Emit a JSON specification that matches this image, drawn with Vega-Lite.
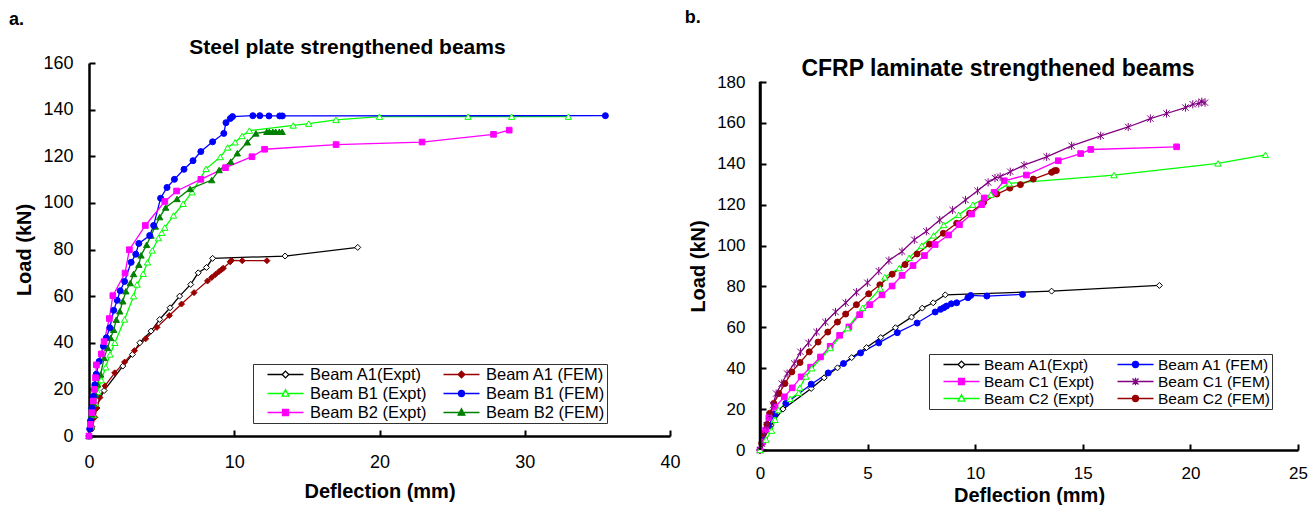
{
"$schema": "https://vega.github.io/schema/vega-lite/v6.json",
"background": "white",
"padding": {"left": 8, "top": 9, "right": 0, "bottom": 0},
"config": {
  "view": {"stroke": null},
  "font": "Liberation Sans",
  "axis": {"grid": false, "domainColor": "#000", "domainWidth": 2.5, "tickColor": "#000", "tickWidth": 2, "tickSize": -6, "labelFont": "Liberation Sans", "labelFontSize": 18, "labelColor": "#000", "labelFlush": false, "labelOverlap": false, "titleFont": "Liberation Sans", "titleFontSize": 20, "titleFontWeight": "bold", "titleColor": "#000"},
  "axisX": {"labelPadding": 23, "titlePadding": 10},
  "axisY": {"labelPadding": 22, "titlePadding": 8},
  "legend": {"labelFont": "Liberation Sans", "labelColor": "#000", "orient": "none", "columns": 2, "direction": "horizontal", "symbolSize": 225, "symbolStrokeWidth": 1, "symbolOffset": 22, "symbolOpacity": 1, "padding": 2, "strokeColor": "#333", "fillColor": "#fff", "labelLimit": 300, "columnPadding": 10},
  "point": {"size": 36, "strokeWidth": 1, "opacity": 1},
  "line": {"strokeWidth": 1.3},
  "title": {"font": "Liberation Sans", "fontWeight": "bold", "color": "#000"}
},
"spacing": 3,
"resolve": {"scale": {"x": "independent", "y": "independent", "stroke": "independent", "fill": "independent", "shape": "independent"}, "legend": {"stroke": "independent", "fill": "independent", "shape": "independent"}},
"hconcat": [
{
 "title": {"text": "a.", "anchor": "start", "fontSize": 18, "offset": 8, "dx": -6},
 "vconcat": [
 {
  "width": 581, "height": 373,
  "title": {"text": "Steel plate strengthened beams", "fontSize": 21, "offset": -4, "frame": "bounds"},
  "data": {"values": [
{"s":"Beam A1(Expt)","x":0,"y":0},{"s":"Beam A1(Expt)","x":0.2,"y":4},{"s":"Beam A1(Expt)","x":0.45,"y":12},{"s":"Beam A1(Expt)","x":1.04,"y":19.5},{"s":"Beam A1(Expt)","x":2.33,"y":30},{"s":"Beam A1(Expt)","x":2.99,"y":35},{"s":"Beam A1(Expt)","x":3.5,"y":40},{"s":"Beam A1(Expt)","x":4.27,"y":45},{"s":"Beam A1(Expt)","x":4.87,"y":50},{"s":"Beam A1(Expt)","x":5.58,"y":55},{"s":"Beam A1(Expt)","x":6.24,"y":60},{"s":"Beam A1(Expt)","x":7.0,"y":65},{"s":"Beam A1(Expt)","x":7.52,"y":70},{"s":"Beam A1(Expt)","x":8.09,"y":72.3},{"s":"Beam A1(Expt)","x":8.51,"y":76.2},{"s":"Beam A1(Expt)","x":13.5,"y":77.2},{"s":"Beam A1(Expt)","x":18.5,"y":80.9},
{"s":"Beam A1 (FEM)","x":0,"y":0},{"s":"Beam A1 (FEM)","x":0.2,"y":3},{"s":"Beam A1 (FEM)","x":0.4,"y":8},{"s":"Beam A1 (FEM)","x":0.55,"y":12},{"s":"Beam A1 (FEM)","x":0.75,"y":16.5},{"s":"Beam A1 (FEM)","x":1.1,"y":21.5},{"s":"Beam A1 (FEM)","x":1.77,"y":27.1},{"s":"Beam A1 (FEM)","x":2.45,"y":31.7},{"s":"Beam A1 (FEM)","x":3.13,"y":36.6},{"s":"Beam A1 (FEM)","x":3.9,"y":41.7},{"s":"Beam A1 (FEM)","x":4.68,"y":46.6},{"s":"Beam A1 (FEM)","x":5.53,"y":51.7},{"s":"Beam A1 (FEM)","x":6.37,"y":56.6},{"s":"Beam A1 (FEM)","x":7.23,"y":61.5},{"s":"Beam A1 (FEM)","x":8.16,"y":66.5},{"s":"Beam A1 (FEM)","x":8.45,"y":68},{"s":"Beam A1 (FEM)","x":8.7,"y":69.3},{"s":"Beam A1 (FEM)","x":8.94,"y":70.5},{"s":"Beam A1 (FEM)","x":9.13,"y":71.4},{"s":"Beam A1 (FEM)","x":9.25,"y":72},{"s":"Beam A1 (FEM)","x":9.72,"y":74.7},{"s":"Beam A1 (FEM)","x":9.8,"y":75.3},{"s":"Beam A1 (FEM)","x":10.55,"y":75.2},{"s":"Beam A1 (FEM)","x":12.25,"y":75.2},
{"s":"Beam B1 (Expt)","x":0,"y":0},{"s":"Beam B1 (Expt)","x":0.15,"y":4},{"s":"Beam B1 (Expt)","x":0.3,"y":9},{"s":"Beam B1 (Expt)","x":0.45,"y":14},{"s":"Beam B1 (Expt)","x":0.6,"y":19},{"s":"Beam B1 (Expt)","x":0.85,"y":24},{"s":"Beam B1 (Expt)","x":1.15,"y":29.5},{"s":"Beam B1 (Expt)","x":1.45,"y":35},{"s":"Beam B1 (Expt)","x":1.78,"y":40},{"s":"Beam B1 (Expt)","x":2.45,"y":50},{"s":"Beam B1 (Expt)","x":3.07,"y":60},{"s":"Beam B1 (Expt)","x":3.31,"y":65},{"s":"Beam B1 (Expt)","x":3.73,"y":69.6},{"s":"Beam B1 (Expt)","x":4.03,"y":74.5},{"s":"Beam B1 (Expt)","x":4.36,"y":79.6},{"s":"Beam B1 (Expt)","x":4.78,"y":84.9},{"s":"Beam B1 (Expt)","x":5.01,"y":87.2},{"s":"Beam B1 (Expt)","x":5.22,"y":89.4},{"s":"Beam B1 (Expt)","x":5.82,"y":94.6},{"s":"Beam B1 (Expt)","x":6.48,"y":99.6},{"s":"Beam B1 (Expt)","x":7.1,"y":104.6},{"s":"Beam B1 (Expt)","x":8.06,"y":114.6},{"s":"Beam B1 (Expt)","x":9.04,"y":119.7},{"s":"Beam B1 (Expt)","x":9.55,"y":123.8},{"s":"Beam B1 (Expt)","x":10.06,"y":126},{"s":"Beam B1 (Expt)","x":10.54,"y":128.7},{"s":"Beam B1 (Expt)","x":11.04,"y":131},{"s":"Beam B1 (Expt)","x":14.06,"y":133.2},{"s":"Beam B1 (Expt)","x":15.13,"y":134},{"s":"Beam B1 (Expt)","x":17.0,"y":135.6},{"s":"Beam B1 (Expt)","x":20.0,"y":137},{"s":"Beam B1 (Expt)","x":26.1,"y":137},{"s":"Beam B1 (Expt)","x":29.1,"y":137},{"s":"Beam B1 (Expt)","x":33.0,"y":137},
{"s":"Beam B1 (FEM)","x":0,"y":0},{"s":"Beam B1 (FEM)","x":0.05,"y":3},{"s":"Beam B1 (FEM)","x":0.1,"y":6.5},{"s":"Beam B1 (FEM)","x":0.2,"y":12},{"s":"Beam B1 (FEM)","x":0.3,"y":17},{"s":"Beam B1 (FEM)","x":0.4,"y":22},{"s":"Beam B1 (FEM)","x":0.5,"y":26.5},{"s":"Beam B1 (FEM)","x":0.7,"y":32},{"s":"Beam B1 (FEM)","x":0.99,"y":38.5},{"s":"Beam B1 (FEM)","x":1.19,"y":42.1},{"s":"Beam B1 (FEM)","x":1.43,"y":46.4},{"s":"Beam B1 (FEM)","x":1.7,"y":53.9},{"s":"Beam B1 (FEM)","x":1.94,"y":58.2},{"s":"Beam B1 (FEM)","x":2.15,"y":62.3},{"s":"Beam B1 (FEM)","x":2.45,"y":66.3},{"s":"Beam B1 (FEM)","x":2.9,"y":74.5},{"s":"Beam B1 (FEM)","x":3.22,"y":78},{"s":"Beam B1 (FEM)","x":3.43,"y":82.6},{"s":"Beam B1 (FEM)","x":4.18,"y":86},{"s":"Beam B1 (FEM)","x":4.45,"y":90.3},{"s":"Beam B1 (FEM)","x":4.93,"y":102},{"s":"Beam B1 (FEM)","x":5.37,"y":106.6},{"s":"Beam B1 (FEM)","x":5.88,"y":110.1},{"s":"Beam B1 (FEM)","x":6.54,"y":114.4},{"s":"Beam B1 (FEM)","x":7.16,"y":118.1},{"s":"Beam B1 (FEM)","x":7.7,"y":122},{"s":"Beam B1 (FEM)","x":8.51,"y":126.2},{"s":"Beam B1 (FEM)","x":9.28,"y":129.8},{"s":"Beam B1 (FEM)","x":9.43,"y":134.4},{"s":"Beam B1 (FEM)","x":9.73,"y":136.2},{"s":"Beam B1 (FEM)","x":9.88,"y":137},{"s":"Beam B1 (FEM)","x":11.28,"y":137.4},{"s":"Beam B1 (FEM)","x":11.76,"y":137.4},{"s":"Beam B1 (FEM)","x":12.39,"y":137.3},{"s":"Beam B1 (FEM)","x":13.13,"y":137.3},{"s":"Beam B1 (FEM)","x":13.31,"y":137.3},{"s":"Beam B1 (FEM)","x":35.55,"y":137.4},
{"s":"Beam B2 (Expt)","x":0,"y":0},{"s":"Beam B2 (Expt)","x":0.1,"y":5},{"s":"Beam B2 (Expt)","x":0.2,"y":10},{"s":"Beam B2 (Expt)","x":0.3,"y":15},{"s":"Beam B2 (Expt)","x":0.38,"y":20},{"s":"Beam B2 (Expt)","x":0.45,"y":25},{"s":"Beam B2 (Expt)","x":0.51,"y":30.5},{"s":"Beam B2 (Expt)","x":0.85,"y":35.2},{"s":"Beam B2 (Expt)","x":1.04,"y":40.5},{"s":"Beam B2 (Expt)","x":1.4,"y":50.4},{"s":"Beam B2 (Expt)","x":1.64,"y":60.2},{"s":"Beam B2 (Expt)","x":2.48,"y":69.9},{"s":"Beam B2 (Expt)","x":2.78,"y":79.9},{"s":"Beam B2 (Expt)","x":3.88,"y":90.3},{"s":"Beam B2 (Expt)","x":5.22,"y":100.6},{"s":"Beam B2 (Expt)","x":6.03,"y":105.1},{"s":"Beam B2 (Expt)","x":7.7,"y":110.1},{"s":"Beam B2 (Expt)","x":9.4,"y":115.1},{"s":"Beam B2 (Expt)","x":11.22,"y":119.8},{"s":"Beam B2 (Expt)","x":12.09,"y":123},{"s":"Beam B2 (Expt)","x":17.01,"y":125},{"s":"Beam B2 (Expt)","x":22.93,"y":126.1},{"s":"Beam B2 (Expt)","x":27.85,"y":129.4},{"s":"Beam B2 (Expt)","x":28.93,"y":131.2},
{"s":"Beam B2 (FEM)","x":0,"y":0},{"s":"Beam B2 (FEM)","x":0.08,"y":4},{"s":"Beam B2 (FEM)","x":0.2,"y":9.3},{"s":"Beam B2 (FEM)","x":0.32,"y":14},{"s":"Beam B2 (FEM)","x":0.45,"y":17.8},{"s":"Beam B2 (FEM)","x":0.6,"y":22.1},{"s":"Beam B2 (FEM)","x":0.8,"y":26.4},{"s":"Beam B2 (FEM)","x":1.04,"y":33.5},{"s":"Beam B2 (FEM)","x":1.28,"y":37.8},{"s":"Beam B2 (FEM)","x":1.49,"y":42.1},{"s":"Beam B2 (FEM)","x":1.7,"y":45.6},{"s":"Beam B2 (FEM)","x":1.88,"y":49.9},{"s":"Beam B2 (FEM)","x":2.12,"y":53.5},{"s":"Beam B2 (FEM)","x":2.33,"y":57.8},{"s":"Beam B2 (FEM)","x":2.54,"y":62.1},{"s":"Beam B2 (FEM)","x":2.84,"y":65.6},{"s":"Beam B2 (FEM)","x":3.07,"y":69.5},{"s":"Beam B2 (FEM)","x":3.43,"y":73.5},{"s":"Beam B2 (FEM)","x":3.58,"y":77.5},{"s":"Beam B2 (FEM)","x":3.97,"y":82},{"s":"Beam B2 (FEM)","x":4.27,"y":86},{"s":"Beam B2 (FEM)","x":4.57,"y":89.9},{"s":"Beam B2 (FEM)","x":4.87,"y":93.9},{"s":"Beam B2 (FEM)","x":5.28,"y":98},{"s":"Beam B2 (FEM)","x":6.06,"y":101.7},{"s":"Beam B2 (FEM)","x":6.96,"y":106},{"s":"Beam B2 (FEM)","x":8.45,"y":109.8},{"s":"Beam B2 (FEM)","x":8.96,"y":114.1},{"s":"Beam B2 (FEM)","x":9.76,"y":117.7},{"s":"Beam B2 (FEM)","x":10.21,"y":121.3},{"s":"Beam B2 (FEM)","x":10.9,"y":126},{"s":"Beam B2 (FEM)","x":11.49,"y":129.8},{"s":"Beam B2 (FEM)","x":12.24,"y":130.5},{"s":"Beam B2 (FEM)","x":12.42,"y":130.5},{"s":"Beam B2 (FEM)","x":12.65,"y":130.5},{"s":"Beam B2 (FEM)","x":12.85,"y":130.5},{"s":"Beam B2 (FEM)","x":13.1,"y":130.5},{"s":"Beam B2 (FEM)","x":13.3,"y":130.5}
  ]},
  "encoding": {
   "x": {"field": "x", "type": "quantitative", "title": "Deflection (mm)", "scale": {"domain": [0, 40], "nice": false}, "axis": {"values": [0, 10, 20, 30, 40]}},
   "y": {"field": "y", "type": "quantitative", "title": "Load (kN)", "scale": {"domain": [0, 160], "nice": false}, "axis": {"values": [0, 20, 40, 60, 80, 100, 120, 140, 160]}}
  },
  "layer": [
   {"mark": "line",
    "encoding": {"stroke": {"field": "s", "type": "nominal",
      "scale": {"domain": ["Beam A1(Expt)", "Beam A1 (FEM)", "Beam B1 (Expt)", "Beam B1 (FEM)", "Beam B2 (Expt)", "Beam B2 (FEM)"], "range": ["#000000", "#990000", "#00ff00", "#0000ff", "#ff00ff", "#008000"]},
      "legend": {"title": null, "legendX": 164, "legendY": 301, "labelFontSize": 16.5, "labelOffset": 16, "rowPadding": 2, "columnPadding": 4}}}},
   {"transform": [{"filter": {"field": "s", "oneOf": ["Beam A1(Expt)", "Beam A1 (FEM)"]}}],
    "mark": {"type": "point", "shape": "diamond"},
    "encoding": {
     "stroke": {"field": "s", "type": "nominal", "legend": {"title": null, "legendX": 164, "legendY": 301, "labelFontSize": 16.5, "labelOffset": 16, "rowPadding": 2, "columnPadding": 4}},
     "fill": {"field": "s", "type": "nominal", "legend": {"title": null, "legendX": 164, "legendY": 301, "labelFontSize": 16.5, "labelOffset": 16, "rowPadding": 2, "columnPadding": 4}, "scale": {"domain": ["Beam A1(Expt)", "Beam A1 (FEM)", "Beam B1 (Expt)", "Beam B1 (FEM)", "Beam B2 (Expt)", "Beam B2 (FEM)"], "range": ["#ffffff", "#990000", "#ffffff", "#0000ff", "#ff00ff", "#008000"]}}
    }},
   {"transform": [{"filter": {"field": "s", "oneOf": ["Beam B1 (Expt)", "Beam B2 (FEM)"]}}],
    "mark": {"type": "point", "shape": "triangle-up", "size": 40},
    "encoding": {
     "stroke": {"field": "s", "type": "nominal", "legend": {"title": null, "legendX": 164, "legendY": 301, "labelFontSize": 16.5, "labelOffset": 16, "rowPadding": 2, "columnPadding": 4}},
     "fill": {"field": "s", "type": "nominal", "legend": {"title": null, "legendX": 164, "legendY": 301, "labelFontSize": 16.5, "labelOffset": 16, "rowPadding": 2, "columnPadding": 4}}
    }},
   {"transform": [{"filter": {"field": "s", "oneOf": ["Beam B1 (FEM)"]}}],
    "mark": {"type": "point", "shape": "circle"},
    "encoding": {
     "stroke": {"field": "s", "type": "nominal", "legend": {"title": null, "legendX": 164, "legendY": 301, "labelFontSize": 16.5, "labelOffset": 16, "rowPadding": 2, "columnPadding": 4}},
     "fill": {"field": "s", "type": "nominal", "legend": {"title": null, "legendX": 164, "legendY": 301, "labelFontSize": 16.5, "labelOffset": 16, "rowPadding": 2, "columnPadding": 4}}
    }},
   {"transform": [{"filter": {"field": "s", "oneOf": ["Beam B2 (Expt)"]}}],
    "mark": {"type": "point", "shape": "square", "size": 32},
    "encoding": {
     "stroke": {"field": "s", "type": "nominal", "legend": {"title": null, "legendX": 164, "legendY": 301, "labelFontSize": 16.5, "labelOffset": 16, "rowPadding": 2, "columnPadding": 4}},
     "fill": {"field": "s", "type": "nominal", "legend": {"title": null, "legendX": 164, "legendY": 301, "labelFontSize": 16.5, "labelOffset": 16, "rowPadding": 2, "columnPadding": 4}}
    }},
   {"transform": [{"filter": "datum.x < 0"}],
    "mark": {"type": "point"},
    "encoding": {
     "stroke": {"field": "s", "type": "nominal", "legend": {"title": null, "legendX": 164, "legendY": 301, "labelFontSize": 16.5, "labelOffset": 16, "rowPadding": 2, "columnPadding": 4}},
     "fill": {"field": "s", "type": "nominal", "legend": {"title": null, "legendX": 164, "legendY": 301, "labelFontSize": 16.5, "labelOffset": 16, "rowPadding": 2, "columnPadding": 4}},
     "shape": {"field": "s", "type": "nominal", "legend": {"title": null, "legendX": 164, "legendY": 301, "labelFontSize": 16.5, "labelOffset": 16, "rowPadding": 2, "columnPadding": 4},
      "scale": {"domain": ["Beam A1(Expt)", "Beam A1 (FEM)", "Beam B1 (Expt)", "Beam B1 (FEM)", "Beam B2 (Expt)", "Beam B2 (FEM)"], "range": ["M-2.4,0H-0.45M0.45,0H2.4M0,-0.45L0.45,0L0,0.45L-0.45,0Z", "M-2.4,0H-0.45M0.45,0H2.4M0,-0.45L0.45,0L0,0.45L-0.45,0Z", "M-2.4,0H-0.26M0.26,0H2.4M0,-0.5L0.45,0.35L-0.45,0.35Z", "M-2.4,0H-0.4M0.4,0H2.4M-0.4,0A0.4,0.4,0,1,1,0.4,0A0.4,0.4,0,1,1,-0.4,0Z", "M-2.4,0H-0.4M0.4,0H2.4M-0.4,-0.4H0.4V0.4H-0.4Z", "M-2.4,0H-0.26M0.26,0H2.4M0,-0.5L0.45,0.35L-0.45,0.35Z"]}}
    }}
  ]
 }]
},
{
 "title": {"text": "b.", "anchor": "start", "fontSize": 18, "offset": 31, "dx": -4},
 "vconcat": [
 {
  "width": 538, "height": 387,
  "title": {"text": "CFRP laminate strengthened beams", "fontSize": 23, "offset": -18, "frame": "bounds"},
  "data": {"values": [
{"s":"Beam A1(Expt)","x":0,"y":0},{"s":"Beam A1(Expt)","x":0.15,"y":5},{"s":"Beam A1(Expt)","x":0.5,"y":12},{"s":"Beam A1(Expt)","x":1.07,"y":20},{"s":"Beam A1(Expt)","x":2.38,"y":30.1},{"s":"Beam A1(Expt)","x":2.98,"y":35.3},{"s":"Beam A1(Expt)","x":3.6,"y":40.2},{"s":"Beam A1(Expt)","x":4.26,"y":45.2},{"s":"Beam A1(Expt)","x":4.95,"y":50.1},{"s":"Beam A1(Expt)","x":5.61,"y":55},{"s":"Beam A1(Expt)","x":6.29,"y":59.8},{"s":"Beam A1(Expt)","x":7.04,"y":65},{"s":"Beam A1(Expt)","x":7.54,"y":69.4},{"s":"Beam A1(Expt)","x":8.05,"y":72},{"s":"Beam A1(Expt)","x":8.61,"y":75.9},{"s":"Beam A1(Expt)","x":13.55,"y":77.7},{"s":"Beam A1(Expt)","x":18.56,"y":80.5},
{"s":"Beam A1 (FEM)","x":0,"y":0},{"s":"Beam A1 (FEM)","x":0.15,"y":5},{"s":"Beam A1 (FEM)","x":0.4,"y":12},{"s":"Beam A1 (FEM)","x":0.69,"y":17.6},{"s":"Beam A1 (FEM)","x":1.2,"y":22.8},{"s":"Beam A1 (FEM)","x":2.38,"y":32.2},{"s":"Beam A1 (FEM)","x":3.17,"y":37.7},{"s":"Beam A1 (FEM)","x":3.88,"y":42.3},{"s":"Beam A1 (FEM)","x":4.67,"y":47.5},{"s":"Beam A1 (FEM)","x":5.52,"y":52.4},{"s":"Beam A1 (FEM)","x":6.38,"y":57.4},{"s":"Beam A1 (FEM)","x":7.3,"y":62.1},{"s":"Beam A1 (FEM)","x":8.14,"y":67.5},{"s":"Beam A1 (FEM)","x":8.39,"y":68.8},{"s":"Beam A1 (FEM)","x":8.54,"y":69.6},{"s":"Beam A1 (FEM)","x":8.67,"y":70.4},{"s":"Beam A1 (FEM)","x":8.89,"y":71.5},{"s":"Beam A1 (FEM)","x":9.14,"y":72},{"s":"Beam A1 (FEM)","x":9.66,"y":74.5},{"s":"Beam A1 (FEM)","x":9.79,"y":75.6},{"s":"Beam A1 (FEM)","x":10.54,"y":75.3},{"s":"Beam A1 (FEM)","x":12.2,"y":76.1},
{"s":"Beam C1 (Expt)","x":0,"y":0},{"s":"Beam C1 (Expt)","x":0.13,"y":4},{"s":"Beam C1 (Expt)","x":0.26,"y":9.8},{"s":"Beam C1 (Expt)","x":0.41,"y":15.8},{"s":"Beam C1 (Expt)","x":0.7,"y":21},{"s":"Beam C1 (Expt)","x":1.13,"y":26},{"s":"Beam C1 (Expt)","x":1.5,"y":30.4},{"s":"Beam C1 (Expt)","x":1.91,"y":35.8},{"s":"Beam C1 (Expt)","x":2.35,"y":40.5},{"s":"Beam C1 (Expt)","x":2.81,"y":45.5},{"s":"Beam C1 (Expt)","x":3.26,"y":50.7},{"s":"Beam C1 (Expt)","x":3.7,"y":56.1},{"s":"Beam C1 (Expt)","x":4.13,"y":60.2},{"s":"Beam C1 (Expt)","x":4.63,"y":66.2},{"s":"Beam C1 (Expt)","x":5.1,"y":71.1},{"s":"Beam C1 (Expt)","x":5.67,"y":75.9},{"s":"Beam C1 (Expt)","x":6.14,"y":80.2},{"s":"Beam C1 (Expt)","x":6.6,"y":85.4},{"s":"Beam C1 (Expt)","x":7.11,"y":90.2},{"s":"Beam C1 (Expt)","x":7.64,"y":95.1},{"s":"Beam C1 (Expt)","x":8.14,"y":100.5},{"s":"Beam C1 (Expt)","x":8.76,"y":105.2},{"s":"Beam C1 (Expt)","x":9.27,"y":110.2},{"s":"Beam C1 (Expt)","x":9.83,"y":115.4},{"s":"Beam C1 (Expt)","x":10.3,"y":120},{"s":"Beam C1 (Expt)","x":10.42,"y":123.3},{"s":"Beam C1 (Expt)","x":10.88,"y":126},{"s":"Beam C1 (Expt)","x":11.35,"y":131.7},{"s":"Beam C1 (Expt)","x":12.38,"y":134.5},{"s":"Beam C1 (Expt)","x":13.86,"y":141.5},{"s":"Beam C1 (Expt)","x":14.9,"y":145},{"s":"Beam C1 (Expt)","x":15.37,"y":147},{"s":"Beam C1 (Expt)","x":19.36,"y":148.3},
{"s":"Beam C1 (FEM)","x":0,"y":0},{"s":"Beam C1 (FEM)","x":0.1,"y":3},{"s":"Beam C1 (FEM)","x":0.2,"y":7},{"s":"Beam C1 (FEM)","x":0.32,"y":12},{"s":"Beam C1 (FEM)","x":0.45,"y":17},{"s":"Beam C1 (FEM)","x":0.6,"y":22},{"s":"Beam C1 (FEM)","x":0.75,"y":27.6},{"s":"Beam C1 (FEM)","x":1.01,"y":32.5},{"s":"Beam C1 (FEM)","x":1.26,"y":37.4},{"s":"Beam C1 (FEM)","x":1.59,"y":42.3},{"s":"Beam C1 (FEM)","x":1.88,"y":48},{"s":"Beam C1 (FEM)","x":2.25,"y":52.4},{"s":"Beam C1 (FEM)","x":2.63,"y":57.7},{"s":"Beam C1 (FEM)","x":3.04,"y":62.6},{"s":"Beam C1 (FEM)","x":3.51,"y":67.5},{"s":"Beam C1 (FEM)","x":3.98,"y":72},{"s":"Beam C1 (FEM)","x":4.48,"y":77.2},{"s":"Beam C1 (FEM)","x":4.99,"y":81.8},{"s":"Beam C1 (FEM)","x":5.52,"y":87.5},{"s":"Beam C1 (FEM)","x":5.99,"y":92.7},{"s":"Beam C1 (FEM)","x":6.6,"y":97.1},{"s":"Beam C1 (FEM)","x":7.17,"y":102.8},{"s":"Beam C1 (FEM)","x":7.73,"y":107},{"s":"Beam C1 (FEM)","x":8.35,"y":112.5},{"s":"Beam C1 (FEM)","x":8.95,"y":117.4},{"s":"Beam C1 (FEM)","x":9.55,"y":122.3},{"s":"Beam C1 (FEM)","x":10.11,"y":126.8},{"s":"Beam C1 (FEM)","x":10.6,"y":130.9},{"s":"Beam C1 (FEM)","x":10.92,"y":133},{"s":"Beam C1 (FEM)","x":11.16,"y":133.7},{"s":"Beam C1 (FEM)","x":11.63,"y":136.1},{"s":"Beam C1 (FEM)","x":12.27,"y":139.3},{"s":"Beam C1 (FEM)","x":13.32,"y":143.4},{"s":"Beam C1 (FEM)","x":14.48,"y":148.8},{"s":"Beam C1 (FEM)","x":15.83,"y":153.7},{"s":"Beam C1 (FEM)","x":17.11,"y":158},{"s":"Beam C1 (FEM)","x":18.14,"y":162.1},{"s":"Beam C1 (FEM)","x":18.89,"y":164.6},{"s":"Beam C1 (FEM)","x":19.77,"y":167.5},{"s":"Beam C1 (FEM)","x":20.11,"y":169.1},{"s":"Beam C1 (FEM)","x":20.39,"y":169.6},{"s":"Beam C1 (FEM)","x":20.53,"y":170.4},{"s":"Beam C1 (FEM)","x":20.68,"y":169.9},
{"s":"Beam C2 (Expt)","x":0,"y":0},{"s":"Beam C2 (Expt)","x":0.28,"y":5.1},{"s":"Beam C2 (Expt)","x":0.54,"y":9.5},{"s":"Beam C2 (Expt)","x":0.7,"y":14.8},{"s":"Beam C2 (Expt)","x":0.85,"y":19.5},{"s":"Beam C2 (Expt)","x":1.4,"y":25},{"s":"Beam C2 (Expt)","x":1.8,"y":28},{"s":"Beam C2 (Expt)","x":1.85,"y":30.5},{"s":"Beam C2 (Expt)","x":2.14,"y":36},{"s":"Beam C2 (Expt)","x":2.41,"y":40},{"s":"Beam C2 (Expt)","x":3.27,"y":49.9},{"s":"Beam C2 (Expt)","x":4.07,"y":59.6},{"s":"Beam C2 (Expt)","x":4.77,"y":69.5},{"s":"Beam C2 (Expt)","x":5.59,"y":79},{"s":"Beam C2 (Expt)","x":5.8,"y":84.5},{"s":"Beam C2 (Expt)","x":6.47,"y":89},{"s":"Beam C2 (Expt)","x":6.93,"y":94},{"s":"Beam C2 (Expt)","x":7.52,"y":100},{"s":"Beam C2 (Expt)","x":8.07,"y":105},{"s":"Beam C2 (Expt)","x":8.54,"y":110.1},{"s":"Beam C2 (Expt)","x":9.23,"y":115},{"s":"Beam C2 (Expt)","x":9.89,"y":120},{"s":"Beam C2 (Expt)","x":10.73,"y":124.9},{"s":"Beam C2 (Expt)","x":11.58,"y":130.4},{"s":"Beam C2 (Expt)","x":16.45,"y":134.5},{"s":"Beam C2 (Expt)","x":21.28,"y":140.2},{"s":"Beam C2 (Expt)","x":23.49,"y":144.4},
{"s":"Beam C2 (FEM)","x":0,"y":0},{"s":"Beam C2 (FEM)","x":0.08,"y":3.3},{"s":"Beam C2 (FEM)","x":0.17,"y":8.1},{"s":"Beam C2 (FEM)","x":0.32,"y":12.5},{"s":"Beam C2 (FEM)","x":0.45,"y":17.9},{"s":"Beam C2 (FEM)","x":0.64,"y":22.8},{"s":"Beam C2 (FEM)","x":0.88,"y":27.6},{"s":"Beam C2 (FEM)","x":1.16,"y":32.5},{"s":"Beam C2 (FEM)","x":1.48,"y":38.2},{"s":"Beam C2 (FEM)","x":1.86,"y":42.8},{"s":"Beam C2 (FEM)","x":2.29,"y":48},{"s":"Beam C2 (FEM)","x":2.7,"y":52.8},{"s":"Beam C2 (FEM)","x":3.15,"y":57.7},{"s":"Beam C2 (FEM)","x":3.6,"y":62.6},{"s":"Beam C2 (FEM)","x":3.98,"y":66.5},{"s":"Beam C2 (FEM)","x":4.48,"y":71.1},{"s":"Beam C2 (FEM)","x":5.05,"y":76.4},{"s":"Beam C2 (FEM)","x":5.57,"y":80.8},{"s":"Beam C2 (FEM)","x":6.14,"y":86},{"s":"Beam C2 (FEM)","x":6.74,"y":90.7},{"s":"Beam C2 (FEM)","x":7.3,"y":95.9},{"s":"Beam C2 (FEM)","x":7.88,"y":100.7},{"s":"Beam C2 (FEM)","x":8.52,"y":106},{"s":"Beam C2 (FEM)","x":9.14,"y":110.9},{"s":"Beam C2 (FEM)","x":9.74,"y":115.8},{"s":"Beam C2 (FEM)","x":10.39,"y":121.1},{"s":"Beam C2 (FEM)","x":11.01,"y":125.2},{"s":"Beam C2 (FEM)","x":11.61,"y":128.1},{"s":"Beam C2 (FEM)","x":12.1,"y":129.8},{"s":"Beam C2 (FEM)","x":12.7,"y":132.5},{"s":"Beam C2 (FEM)","x":13.55,"y":135.8},{"s":"Beam C2 (FEM)","x":13.68,"y":136.6},{"s":"Beam C2 (FEM)","x":13.77,"y":136.7}
  ]},
  "encoding": {
   "x": {"field": "x", "type": "quantitative", "title": "Deflection (mm)", "scale": {"domain": [0, 25], "nice": false}, "axis": {"values": [0, 5, 10, 15, 20, 25], "labelFontSize": 17, "labelPadding": 21, "titlePadding": 4}},
   "y": {"field": "y", "type": "quantitative", "title": "Load (kN)", "scale": {"domain": [0, 189.3], "nice": false}, "axis": {"values": [0, 20, 40, 60, 80, 100, 120, 140, 160, 180], "labelFontSize": 17, "labelPadding": 21, "domainDash": [369, 60], "titleY": 203}}
  },
  "layer": [
   {"mark": "line",
    "encoding": {"stroke": {"field": "s", "type": "nominal",
      "scale": {"domain": ["Beam A1(Expt)", "Beam A1 (FEM)", "Beam C1 (Expt)", "Beam C1 (FEM)", "Beam C2 (Expt)", "Beam C2 (FEM)"], "range": ["#000000", "#0000ff", "#ff00ff", "#800080", "#00ff00", "#990000"]},
      "legend": {"title": null, "legendX": 169, "legendY": 291, "labelFontSize": 15.5, "labelOffset": 14, "rowPadding": -1.5}}}},
   {"transform": [{"filter": {"field": "s", "oneOf": ["Beam A1(Expt)"]}}],
    "mark": {"type": "point", "shape": "diamond"},
    "encoding": {
     "stroke": {"field": "s", "type": "nominal", "legend": {"title": null, "legendX": 169, "legendY": 291, "labelFontSize": 15.5, "labelOffset": 14, "rowPadding": -1.5}},
     "fill": {"field": "s", "type": "nominal", "legend": {"title": null, "legendX": 169, "legendY": 291, "labelFontSize": 15.5, "labelOffset": 14, "rowPadding": -1.5}, "scale": {"domain": ["Beam A1(Expt)", "Beam A1 (FEM)", "Beam C1 (Expt)", "Beam C1 (FEM)", "Beam C2 (Expt)", "Beam C2 (FEM)"], "range": ["#ffffff", "#0000ff", "#ff00ff", "#800080", "#ffffff", "#990000"]}}
    }},
   {"transform": [{"filter": {"field": "s", "oneOf": ["Beam A1 (FEM)", "Beam C2 (FEM)"]}}],
    "mark": {"type": "point", "shape": "circle"},
    "encoding": {
     "stroke": {"field": "s", "type": "nominal", "legend": {"title": null, "legendX": 169, "legendY": 291, "labelFontSize": 15.5, "labelOffset": 14, "rowPadding": -1.5}},
     "fill": {"field": "s", "type": "nominal", "legend": {"title": null, "legendX": 169, "legendY": 291, "labelFontSize": 15.5, "labelOffset": 14, "rowPadding": -1.5}}
    }},
   {"transform": [{"filter": {"field": "s", "oneOf": ["Beam C1 (Expt)"]}}],
    "mark": {"type": "point", "shape": "square", "size": 32},
    "encoding": {
     "stroke": {"field": "s", "type": "nominal", "legend": {"title": null, "legendX": 169, "legendY": 291, "labelFontSize": 15.5, "labelOffset": 14, "rowPadding": -1.5}},
     "fill": {"field": "s", "type": "nominal", "legend": {"title": null, "legendX": 169, "legendY": 291, "labelFontSize": 15.5, "labelOffset": 14, "rowPadding": -1.5}}
    }},
   {"transform": [{"filter": {"field": "s", "oneOf": ["Beam C1 (FEM)"]}}],
    "mark": {"type": "point", "shape": "M-1,-1L1,1M-1,1L1,-1M0,-1.3V1.3", "size": 40},
    "encoding": {
     "stroke": {"field": "s", "type": "nominal", "legend": {"title": null, "legendX": 169, "legendY": 291, "labelFontSize": 15.5, "labelOffset": 14, "rowPadding": -1.5}},
     "fill": {"field": "s", "type": "nominal", "legend": {"title": null, "legendX": 169, "legendY": 291, "labelFontSize": 15.5, "labelOffset": 14, "rowPadding": -1.5}}
    }},
   {"transform": [{"filter": {"field": "s", "oneOf": ["Beam C2 (Expt)"]}}],
    "mark": {"type": "point", "shape": "triangle-up", "size": 40},
    "encoding": {
     "stroke": {"field": "s", "type": "nominal", "legend": {"title": null, "legendX": 169, "legendY": 291, "labelFontSize": 15.5, "labelOffset": 14, "rowPadding": -1.5}},
     "fill": {"field": "s", "type": "nominal", "legend": {"title": null, "legendX": 169, "legendY": 291, "labelFontSize": 15.5, "labelOffset": 14, "rowPadding": -1.5}}
    }},
   {"transform": [{"filter": "datum.x < 0"}],
    "mark": {"type": "point"},
    "encoding": {
     "stroke": {"field": "s", "type": "nominal", "legend": {"title": null, "legendX": 169, "legendY": 291, "labelFontSize": 15.5, "labelOffset": 14, "rowPadding": -1.5}},
     "fill": {"field": "s", "type": "nominal", "legend": {"title": null, "legendX": 169, "legendY": 291, "labelFontSize": 15.5, "labelOffset": 14, "rowPadding": -1.5}},
     "shape": {"field": "s", "type": "nominal", "legend": {"title": null, "legendX": 169, "legendY": 291, "labelFontSize": 15.5, "labelOffset": 14, "rowPadding": -1.5},
      "scale": {"domain": ["Beam A1(Expt)", "Beam A1 (FEM)", "Beam C1 (Expt)", "Beam C1 (FEM)", "Beam C2 (Expt)", "Beam C2 (FEM)"], "range": ["M-2.4,0H-0.45M0.45,0H2.4M0,-0.45L0.45,0L0,0.45L-0.45,0Z", "M-2.4,0H-0.4M0.4,0H2.4M-0.4,0A0.4,0.4,0,1,1,0.4,0A0.4,0.4,0,1,1,-0.4,0Z", "M-2.4,0H-0.4M0.4,0H2.4M-0.4,-0.4H0.4V0.4H-0.4Z", "M-2.4,0H2.4M-0.4,-0.4L0.4,0.4M-0.4,0.4L0.4,-0.4M0,-0.5V0.5", "M-2.4,0H-0.26M0.26,0H2.4M0,-0.5L0.45,0.35L-0.45,0.35Z", "M-2.4,0H-0.4M0.4,0H2.4M-0.4,0A0.4,0.4,0,1,1,0.4,0A0.4,0.4,0,1,1,-0.4,0Z"]}}
    }},
   {"transform": [{"filter": "datum.s === 'Beam A1(Expt)' && datum.x === 0"}],
    "mark": {"type": "rule", "stroke": "#000", "strokeWidth": 2.5},
    "encoding": {"x": {"datum": 0}, "y": {"datum": 0}, "y2": {"datum": 180}}}
  ]
 }]
}
]
}
